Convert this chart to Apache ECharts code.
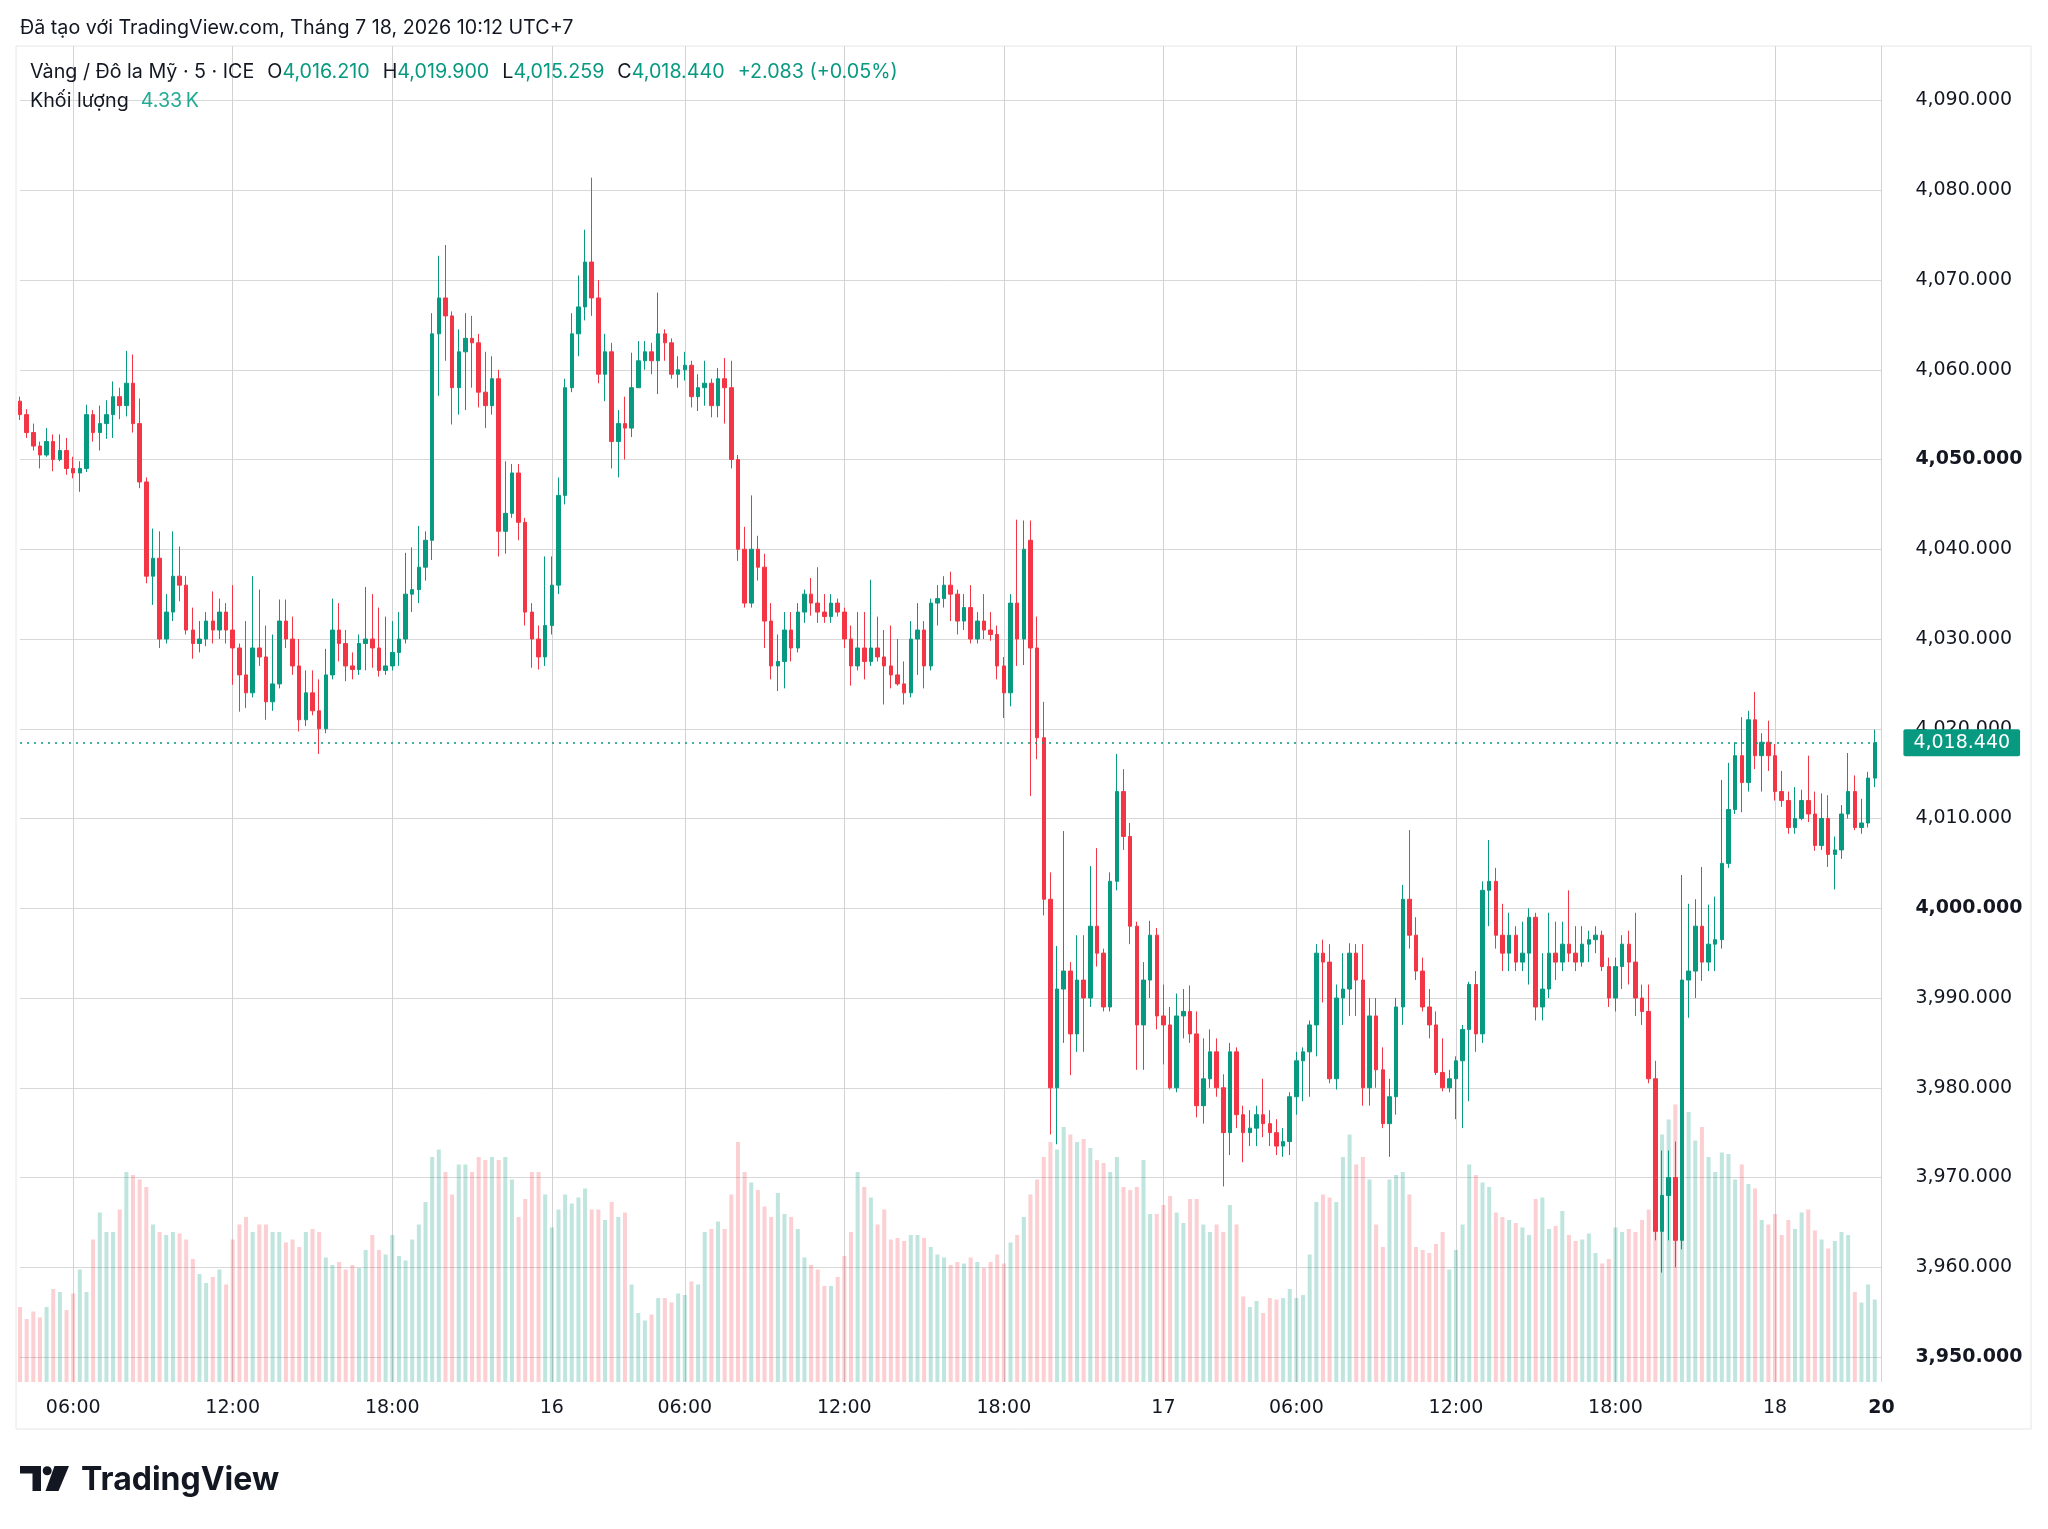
<!DOCTYPE html>
<html>
<head>
<meta charset="utf-8">
<title>Vàng / Đô la Mỹ · 5 · ICE</title>
<script src="https://cdn.jsdelivr.net/npm/echarts@6.0.0/dist/echarts.min.js"></script>
<style>
  html, body { margin: 0; padding: 0; background: #ffffff; }
  #chart { width: 2048px; height: 1529px; }
</style>
</head>
<body>
<div id="chart"></div>
<script>
// sessions on the chart: [day, first hour, end hour], one candle every 15 min
var sessions = [
  ['15', 3, 4], ['15', 5, 24],
  ['16', 0, 4], ['16', 5, 24],
  ['17', 0, 4], ['17', 5, 24],
  ['18', 0, 4]
];
var nextSession = '20';

// time axis labels
var xTicks = {
  '15 06:00': '06:00', '15 12:00': '12:00', '15 18:00': '18:00',
  '16 00:00': '16', '16 06:00': '06:00', '16 12:00': '12:00', '16 18:00': '18:00',
  '17 00:00': '17', '17 06:00': '06:00', '17 12:00': '12:00', '17 18:00': '18:00',
  '18 00:00': '18', '20': '20'
};

// candles [open, close, low, high]
var prices15 = [
  [4056.5,4055.0,4054.4,4057.0],[4055.0,4053.0,4052.4,4055.6],[4053.0,4051.5,4051.0,4054.0],[4051.5,4050.5,4049.0,4052.0],
  [4050.5,4052.0,4050.3,4053.5],[4052.0,4050.0,4048.7,4052.8],[4050.0,4051.0,4049.8,4052.8],[4051.0,4049.0,4048.3,4052.4],
  [4049.0,4048.5,4047.9,4050.3],[4048.5,4049.0,4046.4,4049.8],[4049.0,4055.0,4048.6,4056.1],[4055.0,4053.0,4052.0,4055.5],
  [4053.0,4054.0,4051.0,4056.0],[4054.0,4055.0,4052.3,4056.6],[4055.0,4057.0,4052.4,4058.7],[4057.0,4056.0,4054.5,4058.0],
  [4056.0,4058.5,4054.8,4062.1],[4058.5,4054.0,4053.0,4061.7],[4054.0,4047.5,4046.8,4056.8],[4047.5,4037.0,4036.2,4048.0],
  [4037.0,4039.0,4033.8,4042.3],[4039.0,4030.0,4029.0,4042.0],[4030.0,4033.0,4029.5,4035.0],[4033.0,4037.0,4032.0,4042.0],
  [4037.0,4036.0,4034.2,4040.3],[4036.0,4031.0,4030.5,4037.0],[4031.0,4029.5,4027.8,4033.5],[4029.5,4030.0,4028.5,4032.0],
  [4030.0,4032.0,4029.2,4033.0],[4032.0,4031.0,4029.5,4035.3],[4031.0,4033.0,4030.0,4034.5],[4033.0,4031.0,4029.5,4034.0],
  [4031.0,4029.0,4024.9,4036.0],[4029.0,4026.0,4021.9,4029.5],[4026.0,4024.0,4022.3,4032.0],[4024.0,4029.0,4023.5,4037.0],
  [4029.0,4028.0,4027.0,4035.5],[4028.0,4023.0,4021.0,4031.5],[4023.0,4025.0,4022.0,4030.5],[4025.0,4032.0,4024.5,4034.4],
  [4032.0,4030.0,4029.0,4034.4],[4030.0,4027.0,4026.0,4032.5],[4027.0,4021.0,4019.7,4030.0],[4021.0,4024.0,4020.3,4026.5],
  [4024.0,4022.0,4021.5,4026.5],[4022.0,4020.0,4017.2,4025.5],[4020.0,4026.0,4019.5,4028.9],[4026.0,4031.0,4025.5,4034.5],
  [4031.0,4029.5,4027.5,4034.0],[4029.5,4027.0,4025.3,4031.0],[4027.0,4026.6,4025.5,4028.5],[4026.6,4029.5,4026.0,4030.5],
  [4029.5,4030.0,4026.5,4035.8],[4030.0,4029.0,4026.8,4035.0],[4029.0,4026.5,4025.8,4033.5],[4026.5,4027.0,4026.0,4032.5],
  [4027.0,4028.5,4026.5,4032.0],[4028.5,4030.0,4027.0,4033.0],[4030.0,4035.0,4029.5,4039.6],[4035.0,4035.5,4033.0,4040.2],
  [4035.5,4038.0,4034.0,4042.6],[4038.0,4041.0,4036.5,4042.0],[4041.0,4064.0,4038.8,4066.3],[4064.0,4068.0,4057.1,4072.7],
  [4068.0,4066.0,4061.0,4073.9],[4066.0,4058.0,4053.9,4066.5],[4058.0,4062.0,4055.0,4064.5],[4062.0,4063.5,4055.5,4066.3],
  [4063.5,4063.0,4058.0,4066.0],[4063.0,4057.5,4055.8,4064.0],[4057.5,4056.0,4053.5,4062.0],[4056.0,4059.0,4055.0,4061.5],
  [4059.0,4042.0,4039.2,4060.0],[4042.0,4044.0,4039.5,4049.8],[4044.0,4048.5,4043.5,4049.5],[4048.5,4043.0,4041.0,4049.5],
  [4043.0,4033.0,4031.5,4043.5],[4033.0,4030.0,4026.8,4034.0],[4030.0,4028.0,4026.6,4031.5],[4028.0,4031.5,4027.0,4039.2]
];
var prices16 = [
  [4031.5,4036.0,4030.5,4039.2],[4036.0,4046.0,4035.0,4048.0],[4046.0,4058.0,4045.0,4059.0],[4058.0,4064.0,4057.5,4066.3],
  [4064.0,4067.0,4061.5,4070.5],[4067.0,4072.0,4065.5,4075.6],[4072.0,4068.0,4066.0,4081.4],[4068.0,4059.5,4058.5,4070.0],
  [4059.5,4062.0,4056.5,4064.0],[4062.0,4052.0,4049.0,4063.0],[4052.0,4054.0,4048.0,4055.5],[4054.0,4053.5,4050.0,4057.0],
  [4053.5,4058.0,4052.5,4061.9],[4058.0,4061.0,4058.0,4063.2],[4061.0,4062.0,4060.0,4063.2],[4062.0,4061.0,4059.5,4063.0],
  [4061.0,4064.0,4057.3,4068.6],[4064.0,4063.0,4061.0,4064.5],[4063.0,4059.5,4059.0,4063.5],[4059.5,4060.0,4058.0,4061.5],
  [4060.0,4060.5,4058.8,4062.0],[4060.5,4057.0,4055.8,4061.0],[4057.0,4058.0,4055.4,4059.5],[4058.0,4058.5,4056.0,4061.0],
  [4058.5,4056.0,4054.7,4059.0],[4056.0,4059.0,4054.7,4060.2],[4059.0,4058.0,4054.0,4061.3],[4058.0,4050.0,4049.0,4061.0],
  [4050.0,4040.0,4038.7,4050.5],[4040.0,4034.0,4033.5,4042.5],[4034.0,4040.0,4033.5,4046.0],[4040.0,4038.0,4036.5,4041.5],
  [4038.0,4032.0,4029.0,4039.5],[4032.0,4027.0,4025.5,4034.0],[4027.0,4027.5,4024.2,4030.5],[4027.5,4031.0,4024.5,4033.0],
  [4031.0,4029.0,4027.5,4033.0],[4029.0,4033.0,4028.5,4034.0],[4033.0,4035.0,4031.8,4035.5],[4035.0,4034.0,4032.6,4036.8],
  [4034.0,4033.0,4031.8,4038.0],[4033.0,4032.5,4031.8,4035.0],[4032.5,4034.0,4031.8,4035.0],[4034.0,4033.0,4032.5,4034.5],
  [4033.0,4030.0,4029.0,4033.5],[4030.0,4027.0,4024.8,4031.5],[4027.0,4029.0,4026.5,4033.0],[4029.0,4027.5,4025.5,4033.0],
  [4027.5,4029.0,4027.0,4036.6],[4029.0,4028.0,4027.5,4032.5],[4028.0,4027.0,4022.7,4031.0],[4027.0,4026.0,4024.5,4031.5],
  [4026.0,4025.0,4024.8,4030.0],[4025.0,4024.0,4022.7,4027.5],[4024.0,4030.0,4023.5,4032.0],[4030.0,4031.0,4026.0,4034.0],
  [4031.0,4027.0,4024.5,4032.0],[4027.0,4034.0,4026.5,4034.5],[4034.0,4034.5,4031.5,4036.0],[4034.5,4036.0,4033.5,4037.0],
  [4036.0,4035.0,4032.0,4037.5],[4035.0,4032.0,4030.5,4035.5],[4032.0,4033.5,4031.0,4035.0],[4033.5,4030.0,4029.5,4036.0],
  [4030.0,4032.0,4029.5,4033.0],[4032.0,4031.0,4030.0,4035.0],[4031.0,4030.5,4029.8,4033.0],[4030.5,4027.0,4025.5,4031.5],
  [4027.0,4024.0,4021.2,4028.0],[4024.0,4034.0,4022.5,4035.0],[4034.0,4030.0,4027.0,4043.3],[4030.0,4040.0,4027.1,4043.2],
  [4041.0,4029.0,4012.5,4043.2],[4029.0,4019.0,4016.6,4032.5],[4019.0,4001.0,3999.2,4023.0],[4001.0,3980.0,3974.8,4004.0],
  [3980.0,3991.0,3973.7,3995.8],[3991.0,3993.0,3985.0,4008.6],[3993.0,3986.0,3981.4,3994.0],[3986.0,3992.0,3984.0,3997.0],
  [3992.0,3990.0,3984.0,3997.0],[3990.0,3998.0,3989.0,4004.7],[3998.0,3995.0,3993.5,4006.7],[3995.0,3989.0,3988.5,3995.5],
  [3989.0,4003.0,3988.5,4004.0],[4003.0,4013.0,4002.0,4017.2],[4013.0,4008.0,4006.5,4015.5],[4008.0,3998.0,3996.0,4009.5],
  [3998.0,3987.0,3982.0,3998.5],[3987.0,3992.0,3982.0,3994.0],[3992.0,3997.0,3990.0,3998.6],[3997.0,3988.0,3986.5,3997.8]
];
var prices17 = [
  [3988.0,3987.0,3982.6,3991.5],[3987.0,3980.0,3979.8,3989.0],[3980.0,3988.0,3979.5,3990.5],[3988.0,3988.5,3985.5,3991.0],
  [3988.5,3986.0,3985.0,3991.4],[3986.0,3978.0,3976.7,3988.5],[3978.0,3981.0,3976.0,3985.5],[3981.0,3984.0,3980.0,3986.5],
  [3984.0,3980.0,3979.0,3985.5],[3980.0,3975.0,3969.0,3981.5],[3975.0,3984.0,3972.5,3985.0],[3984.0,3977.0,3975.5,3984.5],
  [3977.0,3975.0,3971.7,3978.0],[3975.0,3975.5,3973.5,3977.5],[3975.5,3977.0,3973.5,3978.0],[3977.0,3976.0,3974.5,3981.0],
  [3976.0,3975.0,3973.5,3977.5],[3975.0,3973.5,3972.5,3976.5],[3973.5,3974.0,3972.3,3975.5],[3974.0,3979.0,3972.5,3979.5],
  [3979.0,3983.0,3977.0,3984.0],[3983.0,3984.0,3978.5,3984.5],[3984.0,3987.0,3979.0,3987.5],[3987.0,3995.0,3983.5,3996.0],
  [3995.0,3994.0,3989.5,3996.5],[3994.0,3981.0,3980.5,3996.0],[3981.0,3990.0,3979.8,3991.5],[3990.0,3991.0,3987.0,3995.0],
  [3991.0,3995.0,3988.0,3996.1],[3995.0,3992.0,3988.0,3996.0],[3992.0,3980.0,3978.0,3996.0],[3980.0,3988.0,3978.0,3990.0],
  [3988.0,3982.0,3980.0,3990.0],[3982.0,3976.0,3975.5,3984.5],[3976.0,3979.0,3972.3,3981.0],[3979.0,3989.0,3977.0,3990.0],
  [3989.0,4001.0,3987.0,4002.6],[4001.0,3997.0,3995.5,4008.7],[3997.0,3993.0,3992.0,3999.0],[3993.0,3989.0,3988.5,3994.5],
  [3989.0,3987.0,3985.5,3991.0],[3987.0,3981.7,3981.4,3988.5],[3981.7,3980.0,3979.6,3985.5],[3980.0,3981.0,3979.5,3982.0],
  [3981.0,3983.0,3976.5,3983.5],[3983.0,3986.5,3975.5,3987.0],[3986.5,3991.5,3978.5,3991.8],[3991.5,3986.0,3984.0,3993.0],
  [3986.0,4002.0,3985.0,4003.0],[4002.0,4003.0,3998.0,4007.6],[4003.0,3997.0,3995.5,4004.5],[3997.0,3995.0,3993.0,4000.5],
  [3995.0,3997.0,3993.0,3999.5],[3997.0,3994.0,3993.0,3998.0],[3994.0,3995.0,3993.0,3998.5],[3995.0,3999.0,3991.5,4000.0],
  [3999.0,3989.0,3987.5,3999.5],[3989.0,3991.0,3987.5,3995.0],[3991.0,3995.0,3990.0,3999.5],[3995.0,3994.0,3992.0,3998.5],
  [3994.0,3996.0,3993.0,3998.5],[3996.0,3995.0,3994.0,4002.0],[3995.0,3994.0,3993.0,3998.0],[3994.0,3996.0,3993.5,3998.0],
  [3996.0,3996.5,3994.0,3997.5],[3996.5,3997.0,3995.0,3998.0],[3997.0,3993.5,3993.0,3997.5],[3993.5,3990.0,3989.0,3994.5],
  [3990.0,3993.5,3988.5,3994.5],[3993.5,3996.0,3991.0,3997.0],[3996.0,3994.0,3991.5,3997.5],[3994.0,3990.0,3988.0,3999.5],
  [3990.0,3988.5,3987.0,3991.5],[3988.5,3981.0,3980.5,3991.5],[3981.0,3964.0,3963.0,3983.0],[3964.0,3968.0,3959.4,3973.0],
  [3968.0,3970.0,3963.0,3973.0],[3970.0,3963.0,3960.0,3974.0],[3963.0,3992.0,3962.0,4003.7],[3992.0,3993.0,3987.8,4000.5],
  [3993.0,3998.0,3990.0,4001.0],[3998.0,3994.0,3991.9,4004.6],[3994.0,3996.0,3993.0,4000.4],[3996.0,3996.5,3993.0,4001.3],
  [3996.5,4005.0,3995.5,4014.3],[4005.0,4011.0,4004.5,4016.2],[4011.0,4017.0,4010.5,4018.5],[4017.0,4014.0,4010.7,4021.3],
  [4014.0,4021.0,4013.0,4022.0],[4021.0,4017.0,4015.5,4024.1],[4017.0,4018.5,4013.0,4019.5],[4018.5,4017.0,4015.3,4020.9]
];
var prices18 = [
  [4017.0,4013.0,4012.0,4018.3],[4013.0,4012.0,4011.3,4015.3],[4012.0,4009.0,4008.3,4013.0],[4009.0,4010.0,4008.3,4013.5],
  [4010.0,4012.0,4009.8,4013.2],[4012.0,4010.5,4009.6,4017.0],[4010.5,4007.0,4006.4,4013.0],[4007.0,4010.0,4006.5,4012.8],
  [4010.0,4006.0,4004.6,4012.6],[4006.0,4006.5,4002.1,4008.0],[4006.5,4010.5,4005.5,4011.5],[4010.5,4013.0,4010.0,4017.3],
  [4013.0,4009.0,4008.7,4014.8],[4009.0,4009.5,4008.3,4012.2],[4009.5,4014.5,4009.0,4015.2],[4014.5,4018.44,4013.5,4019.9]
];

// volume in thousands
var volumes15 = [
  5.0, 4.2, 4.7, 4.3,
  5.0, 6.2, 6.0, 4.8,  5.9, 7.5, 6.0, 9.5,  11.3, 10.0, 10.0, 11.5,  14.0, 13.8, 13.5, 13.0,
  10.5, 10.0, 9.8, 10.0,  9.9, 9.5, 8.2, 7.2,  6.6, 7.0, 7.5, 6.5,  9.5, 10.5, 11.0, 10.0,
  10.5, 10.5, 10.0, 10.0,  9.3, 9.5, 9.0, 10.0,  10.2, 10.0, 8.3, 7.8,  8.0, 7.5, 7.8, 7.6,
  8.8, 9.8, 8.8, 8.5,  9.8, 8.4, 8.1, 9.5,  10.5, 12.0, 15.0, 15.5,  14.0, 12.5, 14.5, 14.5,
  14.0, 15.0, 14.8, 15.0,  14.8, 15.0, 13.5, 11.0,  12.2, 14.0, 14.0, 12.5
];
var volumes16 = [
  10.3, 11.5, 12.5, 11.9,  12.3, 12.9, 11.5, 11.5,  10.8, 12.0, 11.0, 11.3,  6.5, 4.6, 4.1, 4.5,
  5.6, 5.6, 5.3, 5.9,  5.8, 6.7, 6.5, 10.0,  10.2, 10.7, 10.2, 12.5,  16.0, 14.0, 13.3, 12.8,
  11.7, 11.0, 12.6, 11.2,  11.0, 10.2, 8.3, 7.8,  7.5, 6.4, 6.4, 7.0,  8.4, 10.0, 14.0, 13.0,
  12.3, 10.5, 11.5, 9.5,  9.6, 9.4, 9.8, 9.8,  9.6, 9.0, 8.5, 8.3,  7.8, 8.0, 7.9, 8.3,
  8.0, 7.6, 8.0, 8.5,  7.9, 9.3, 9.8, 11.0,  12.5, 13.5, 15.0, 16.0,  15.5, 17.0, 16.5, 16.0,
  16.2, 15.6, 14.8, 14.6,  14.0, 15.0, 13.0, 12.8,  13.0, 14.8, 11.2, 11.2
];
var volumes17 = [
  11.8, 12.4, 11.3, 10.6,  12.2, 12.2, 10.5, 10.0,  10.5, 10.0, 11.8, 10.5,  5.7, 5.0, 5.4, 4.6,
  5.6, 5.5, 5.6, 6.2,  5.6, 5.8, 8.5, 12.0,  12.5, 12.3, 12.0, 15.0,  16.5, 14.5, 15.0, 13.5,
  10.5, 9.0, 13.5, 13.8,  14.0, 12.5, 9.0, 8.8,  8.6, 9.2, 10.0, 7.5,  8.8, 10.5, 14.5, 13.8,
  13.3, 13.0, 11.3, 11.0,  10.8, 10.6, 10.3, 9.8,  12.2, 12.3, 10.2, 10.4,  11.4, 9.8, 9.4, 9.5,
  9.9, 8.6, 7.9, 8.2,  10.3, 10.0, 10.2, 10.0,  10.8, 11.5, 14.5, 16.5,  17.5, 18.5, 19.0, 18.0,
  16.1, 17.0, 15.0, 14.0,  15.3, 15.2, 13.5, 14.5,  13.2, 12.9, 10.8, 10.5
];
var volumes18 = [
  11.2, 9.8, 10.8, 10.2,  11.3, 11.5, 10.1, 9.5,  8.9, 9.4, 10.0, 9.8,  6.0, 5.3, 6.5, 5.5
];

// last 5 minute bar, as shown in the legend
var lastBar = { o: 4016.210, h: 4019.900, l: 4015.259, c: 4018.440, chg: 2.083, pct: 0.05, vol: 4.33 };

var UP = '#089981', DOWN = '#F23645';
var FONT = 'DejaVu Sans';
var TXT = 'Inter';
var TXT_SIZE = 19.7;

function pad(n) { return (n < 10 ? '0' : '') + n; }
function fmt(v) { return v.toLocaleString('en-US', { minimumFractionDigits: 3, maximumFractionDigits: 3 }); }

var categories = [];
sessions.forEach(function (s) {
  for (var h = s[1]; h < s[2]; h++) {
    for (var m = 0; m < 60; m += 15) categories.push(s[0] + ' ' + pad(h) + ':' + pad(m));
  }
});
categories.push(nextSession);

var prices = prices15.concat(prices16, prices17, prices18);
var volumes = volumes15.concat(volumes16, volumes17, volumes18);
var volItems = volumes.map(function (v, i) {
  var up = prices[i][1] >= prices[i][0];
  return { value: v, itemStyle: { color: up ? 'rgba(8,153,129,0.26)' : 'rgba(242,54,69,0.24)' } };
});

function isTick(i, v) { return xTicks.hasOwnProperty(v); }

function txt(color, padLeft) {
  return { fontFamily: TXT, fontSize: TXT_SIZE, fontWeight: 'normal', color: color, padding: [0, 0, 0, padLeft || 0] };
}

var chart = echarts.init(document.getElementById('chart'));
var option = {
  animation: false,
  backgroundColor: '#ffffff',
  title: [
    { left: 15, top: 13, text: 'Đã tạo với TradingView.com, Tháng 7 18, 2026 10:12 UTC+7',
      textStyle: { fontFamily: TXT, fontSize: TXT_SIZE, fontWeight: 'normal', color: '#131722' } },
    { left: 25, top: 57,
      text: '{n|Vàng / Đô la Mỹ · 5 · ICE}{k|O}{v|' + fmt(lastBar.o) + '}{k|H}{v|' + fmt(lastBar.h) +
            '}{k|L}{v|' + fmt(lastBar.l) + '}{k|C}{v|' + fmt(lastBar.c) + '}{c|+' + lastBar.chg.toFixed(3) +
            ' (+' + lastBar.pct.toFixed(2) + '%)}',
      textStyle: { fontWeight: 'normal', rich: {
        n: txt('#131722'), k: txt('#131722', 13), v: txt(UP), c: txt(UP, 13)
      } } },
    { left: 25, top: 86,
      text: '{n|Khối lượng}{v|' + lastBar.vol.toFixed(2) + '\u2009K}',
      textStyle: { fontWeight: 'normal', rich: { n: txt('#131722'), v: txt('#22AB94', 12) } } }
  ],
  grid: [
    { left: 20, width: 1861.4, top: 46, height: 1336 },
    { left: 20, width: 1861.4, top: 100.5, height: 1256.5 }
  ],
  xAxis: [
    { type: 'category', gridIndex: 0, data: categories, boundaryGap: false,
      axisLine: { show: false }, axisTick: { show: false },
      axisLabel: {
        interval: isTick, margin: 17, color: '#131722', fontFamily: FONT, fontSize: 19,
        formatter: function (v) { return v === nextSession ? '{b|' + xTicks[v] + '}' : xTicks[v]; },
        rich: { b: { fontFamily: FONT, fontSize: 19, fontWeight: 'bold', color: '#131722' } }
      },
      splitLine: { show: true, interval: isTick, lineStyle: { color: '#d2d2d2', width: 1 } } },
    { type: 'category', gridIndex: 1, data: categories, boundaryGap: false, show: false }
  ],
  yAxis: [
    { type: 'value', gridIndex: 0, min: 0, max: 89.07, show: false, splitLine: { show: false } },
    { type: 'value', gridIndex: 1, position: 'right', min: 3950, max: 4090, interval: 10,
      axisLine: { show: false }, axisTick: { show: false },
      splitLine: { lineStyle: { color: '#d8d8d8', width: 1 } },
      axisLabel: {
        margin: 34, color: '#131722', fontFamily: FONT, fontSize: 19,
        formatter: function (v) { return v % 50 === 0 ? '{b|' + fmt(v) + '}' : fmt(v); },
        rich: { b: { fontFamily: FONT, fontSize: 19, fontWeight: 'bold', color: '#131722' } }
      } }
  ],
  series: [
    { name: 'Khối lượng', type: 'bar', xAxisIndex: 0, yAxisIndex: 0, data: volItems,
      barWidth: 4, z: 1, silent: true,
      markLine: {
        silent: true, symbol: ['none', 'none'],
        lineStyle: { opacity: 0, width: 0 },
        label: { show: true, position: 'end', distance: 22, formatter: lastBar.vol.toFixed(2) + '\u2009K',
          color: '#ffffff', backgroundColor: '#22AB94', padding: [4, 10], borderRadius: 2,
          fontFamily: FONT, fontSize: 19 },
        data: [{ yAxis: lastBar.vol }]
      } },
    { name: 'Vàng', type: 'candlestick', xAxisIndex: 1, yAxisIndex: 1, data: prices,
      barWidth: 4, clip: false, z: 3,
      itemStyle: { color: UP, color0: DOWN, borderColor: UP, borderColor0: DOWN, borderWidth: 1 },
      markLine: {
        silent: true, symbol: ['none', 'none'],
        lineStyle: { color: UP, type: [2, 5], width: 1.5 },
        label: { show: true, position: 'end', distance: 22, formatter: fmt(lastBar.c),
          color: '#ffffff', backgroundColor: UP, padding: [4, 10], borderRadius: 2,
          fontFamily: FONT, fontSize: 19 },
        data: [{ yAxis: lastBar.c }]
      } }
  ],
  graphic: [
    { type: 'rect', silent: true, shape: { x: 16, y: 46, width: 2015, height: 1383 },
      style: { fill: 'none', stroke: '#e6e6e6', lineWidth: 1 } },
    { type: 'group', silent: true, children: [
      { type: 'rect', shape: { x: 20, y: 1466, width: 21, height: 7.5 }, style: { fill: '#131722' } },
      { type: 'rect', shape: { x: 32.5, y: 1466, width: 8.5, height: 25 }, style: { fill: '#131722' } },
      { type: 'circle', shape: { cx: 47.2, cy: 1470.8, r: 4.5 }, style: { fill: '#131722' } },
      { type: 'polygon', shape: { points: [[54.5, 1466], [69, 1466], [58.5, 1491], [45.5, 1491]] }, style: { fill: '#131722' } },
      { type: 'text', style: { x: 81, y: 1480, text: 'TradingView', font: 'bold 32px Inter', fill: '#131722', verticalAlign: 'middle' } }
    ] }
  ]
};
chart.setOption(option);
</script>
</body>
</html>
